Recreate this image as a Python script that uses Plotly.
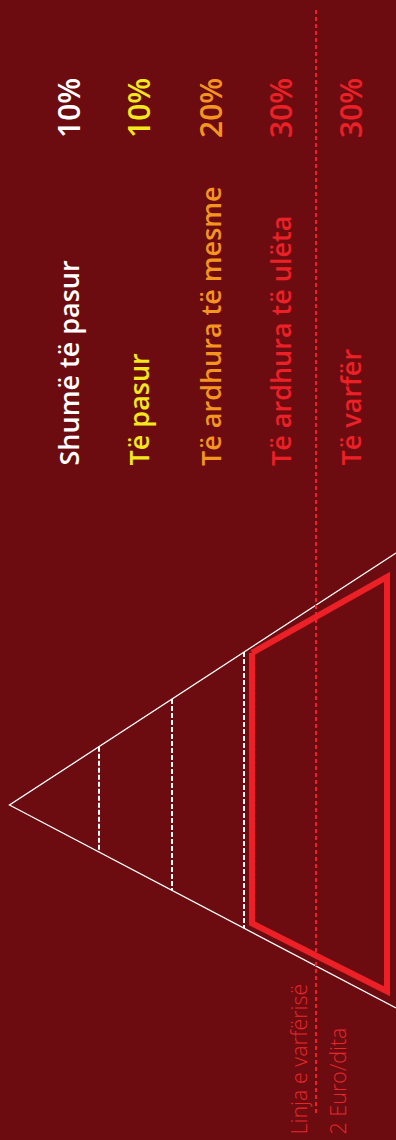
import plotly.graph_objects as go

# ---- data ----
categories = ["Shumë të pasur", "Të pasur", "Të ardhura të mesme", "Të ardhura të ulëta", "Të varfër"]
shares = [10, 10, 20, 30, 30]
share_labels = [f"{s}%" for s in shares]
poverty_label = "Linja e varfërisë"
poverty_value = "2 Euro/dita"

# pyramid geometry (diagram units == pixels of the 396x1140 canvas)
apex = (9.5, 805)
upper_end = (396, 553)
lower_end = (396, 1008)
tier_bounds = [99, 172, 244]          # dashed separators inside the pyramid
poor_block = [252, 387]               # thick red outline (lower tiers)
poverty_x = 316                       # poverty line position

# ---- styles ----
BG = "#6c0c10"
RED = "#ec2027"
label_colors = ["#ffffff", "#f2e81a", "#f4951f", "#ec2027", "#ec2027"]
col_x = [68, 138, 210, 280, 350]


def upper_y(x):
    return apex[1] + (upper_end[1] - apex[1]) * (x - apex[0]) / (upper_end[0] - apex[0])


def lower_y(x):
    return apex[1] + (lower_end[1] - apex[1]) * (x - apex[0]) / (lower_end[0] - apex[0])


fig = go.Figure()

# triangle outline
fig.add_trace(go.Scatter(
    x=[upper_end[0], apex[0], lower_end[0]],
    y=[upper_end[1], apex[1], lower_end[1]],
    mode="lines", line=dict(color="white", width=1.3),
    hoverinfo="skip", showlegend=False))

# dashed tier separators
sx, sy = [], []
for b in tier_bounds:
    sx += [b, b, None]
    sy += [upper_y(b), lower_y(b), None]
fig.add_trace(go.Scatter(
    x=sx, y=sy, mode="lines",
    line=dict(color="white", width=2, dash="5px,2px"),
    hoverinfo="skip", showlegend=False))

# thick red block (low income + poor)
l, r = poor_block
off = 6
fig.add_trace(go.Scatter(
    x=[l, l, r, r, l],
    y=[upper_y(l) + off, lower_y(l) - off - 3, lower_y(r) - 12, upper_y(r) + off + 12, upper_y(l) + off],
    mode="lines", line=dict(color=RED, width=6),
    hoverinfo="skip", showlegend=False))

# poverty line
fig.add_trace(go.Scatter(
    x=[poverty_x, poverty_x], y=[10, 1113], mode="lines",
    line=dict(color=RED, width=2, dash="4px,3px"),
    hoverinfo="skip", showlegend=False))

annotations = []
for cat, lab, c, x in zip(categories, share_labels, label_colors, col_x):
    annotations.append(dict(
        x=x, y=468, xref="x", yref="y", text=cat, textangle=-90,
        showarrow=False, xanchor="center", yanchor="bottom",
        font=dict(family="Open Sans", size=27, color=c, weight=650)))
    annotations.append(dict(
        x=x, y=76, xref="x", yref="y", text=lab, textangle=-90,
        showarrow=False, xanchor="center", yanchor="top",
        font=dict(family="Open Sans", size=30, color=c, weight=650)))

annotations.append(dict(
    x=298, y=1137, xref="x", yref="y", text=poverty_label, textangle=-90,
    showarrow=False, xanchor="center", yanchor="bottom",
    font=dict(family="Open Sans", size=21.5, color="#e8262d", weight=300)))
annotations.append(dict(
    x=337, y=1137, xref="x", yref="y", text=poverty_value, textangle=-90,
    showarrow=False, xanchor="center", yanchor="bottom",
    font=dict(family="Open Sans", size=21.5, color="#e8262d", weight=300)))

fig.update_layout(
    width=396, height=1140,
    margin=dict(l=0, r=0, t=0, b=0),
    paper_bgcolor=BG, plot_bgcolor=BG,
    xaxis=dict(range=[0, 396], visible=False, fixedrange=True),
    yaxis=dict(range=[1140, 0], visible=False, fixedrange=True),
    annotations=annotations,
)

fig.write_html("out.html", config={"displayModeBar": False},
               post_script="document.body.style.margin='0';")
